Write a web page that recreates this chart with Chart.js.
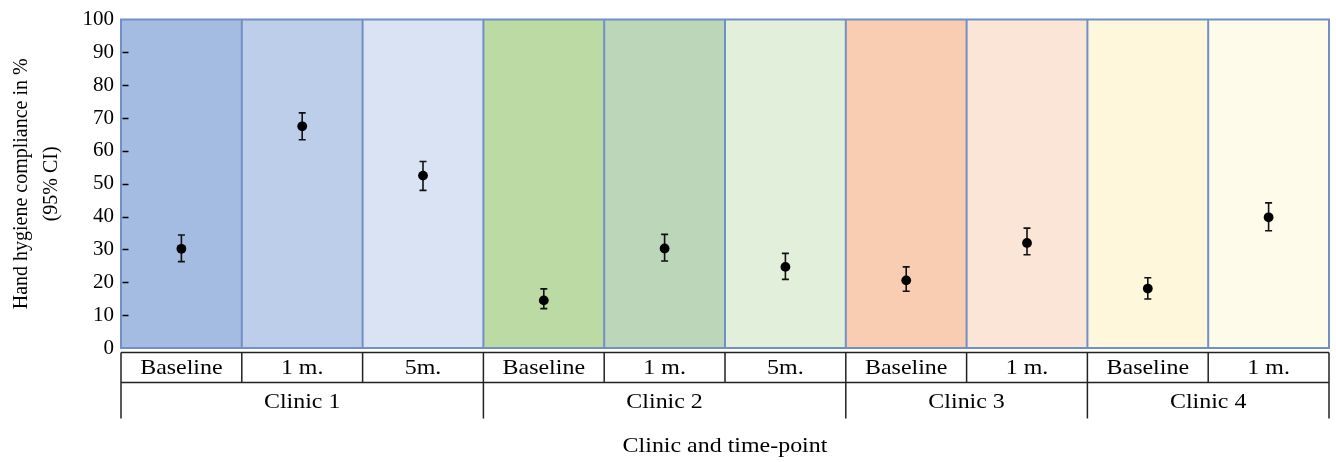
<!DOCTYPE html>
<html>
<head>
<meta charset="utf-8">
<script src="https://cdn.jsdelivr.net/npm/chart.js@4"></script>
<style>
  html, body { margin: 0; padding: 0; background: #fff; }
  #wrap { width: 1336px; height: 462px; }
</style>
</head>
<body>
<div id="wrap"><canvas id="c" width="1336" height="462"></canvas></div>
<script>
const timeLabels = ['Baseline', '1 m.', '5m.', 'Baseline', '1 m.', '5m.', 'Baseline', '1 m.', 'Baseline', '1 m.'];
const clinics = ['Clinic 1', 'Clinic 2', 'Clinic 3', 'Clinic 4'];
const clinicSizes = [3, 3, 2, 2];
const compliance = [30.2, 67.5, 52.5, 14.5, 30.3, 24.7, 20.6, 32.0, 18.1, 39.8];
const ciLow  = [26.3, 63.4, 48.0, 12.0, 26.5, 20.9, 17.3, 28.4, 14.9, 35.7];
const ciHigh = [34.4, 71.6, 56.8, 18.0, 34.6, 28.8, 24.7, 36.5, 21.4, 44.2];
const bandTop = [100, 100, 100, 100, 100, 100, 100, 100, 100, 100];
const bandColors = ['#a4bce2', '#bccee9', '#dae3f3', '#bbdaa4', '#bcd6b9', '#e2efda', '#f8cdb2', '#fbe5d6', '#fef7db', '#fffbeb'];
const yTicks = [0, 10, 20, 30, 40, 50, 60, 70, 80, 90, 100];

const FONT = '"Liberation Serif", "Times New Roman", serif';

function wideText(ctx, t, cx, cy) {
  ctx.save();
  ctx.translate(cx, cy);
  ctx.scale(1.14, 1);
  ctx.fillText(t, 0, 0);
  ctx.restore();
}

const extras = {
  id: 'extras',
  afterDatasetsDraw(chart) {
    const ctx = chart.ctx;
    const x = chart.scales.x, y = chart.scales.y;
    const area = chart.chartArea;
    const n = timeLabels.length;
    const edges = [area.left];
    for (let i = 0; i < n - 1; i++) {
      edges.push((x.getPixelForValue(i) + x.getPixelForValue(i + 1)) / 2);
    }
    edges.push(area.right);
    const top = y.getPixelForValue(100), bot = y.getPixelForValue(0);
    ctx.save();
    // band borders
    ctx.strokeStyle = '#7190c4';
    ctx.lineWidth = 2;
    ctx.beginPath();
    edges.forEach(ex => { ctx.moveTo(ex, top - 1); ctx.lineTo(ex, bot + 1); });
    ctx.moveTo(area.left, top); ctx.lineTo(area.right, top);
    ctx.moveTo(area.left, bot); ctx.lineTo(area.right, bot);
    ctx.stroke();
    // inner tick marks
    ctx.strokeStyle = '#000';
    ctx.lineWidth = 1.5;
    yTicks.forEach(v => {
      if (v === 0 || v === 100) return;
      const py = Math.round(y.getPixelForValue(v)) + 0.5;
      ctx.beginPath();
      ctx.moveTo(area.left + 1.5, py);
      ctx.lineTo(area.left + 7.5, py);
      ctx.stroke();
    });
    // error bars and points
    ctx.strokeStyle = '#111';
    ctx.lineWidth = 1.6;
    compliance.forEach((v, i) => {
      const px = x.getPixelForValue(i);
      const pl = y.getPixelForValue(ciLow[i]);
      const ph = y.getPixelForValue(ciHigh[i]);
      ctx.beginPath();
      ctx.moveTo(px, pl); ctx.lineTo(px, ph);
      ctx.moveTo(px - 3.5, pl); ctx.lineTo(px + 3.5, pl);
      ctx.moveTo(px - 3.5, ph); ctx.lineTo(px + 3.5, ph);
      ctx.stroke();
      ctx.beginPath();
      ctx.fillStyle = '#000';
      ctx.arc(px, y.getPixelForValue(v), 4.9, 0, Math.PI * 2);
      ctx.fill();
    });
    // table below
    const r1t = area.bottom + 4.5, r1b = r1t + 30, r2b = r1b + 36;
    ctx.strokeStyle = '#222';
    ctx.lineWidth = 1.5;
    ctx.beginPath();
    ctx.moveTo(area.left, r1t); ctx.lineTo(area.right, r1t);
    ctx.moveTo(area.left, r1b); ctx.lineTo(area.right, r1b);
    edges.forEach(ex => { ctx.moveTo(ex, r1t); ctx.lineTo(ex, r1b); });
    let idx = 0;
    const gEdges = [edges[0]];
    clinicSizes.forEach(s => { idx += s; gEdges.push(edges[idx]); });
    gEdges.forEach(ex => { ctx.moveTo(ex, r1b); ctx.lineTo(ex, r2b); });
    ctx.stroke();
    ctx.fillStyle = '#000';
    ctx.font = '21px ' + FONT;
    ctx.textAlign = 'center';
    ctx.textBaseline = 'middle';
    timeLabels.forEach((t, i) => {
      wideText(ctx, t, (edges[i] + edges[i + 1]) / 2, (r1t + r1b) / 2 + 1);
    });
    clinics.forEach((c, i) => {
      wideText(ctx, c, (gEdges[i] + gEdges[i + 1]) / 2, (r1b + r2b) / 2 + 2);
    });
    wideText(ctx, 'Clinic and time-point', (area.left + area.right) / 2, 446);
    ctx.restore();
  }
};

new Chart(document.getElementById('c'), {
  type: 'bar',
  data: {
    labels: timeLabels.map((t, i) => i),
    datasets: [{
      data: bandTop,
      backgroundColor: bandColors,
      borderWidth: 0,
      barPercentage: 1,
      categoryPercentage: 1,
      inflateAmount: 0.5
    }]
  },
  options: {
    responsive: false,
    animation: false,
    events: [],
    layout: { padding: { top: 13, right: 7, bottom: 114, left: 0 } },
    plugins: { legend: { display: false }, tooltip: { enabled: false } },
    scales: {
      x: { display: false },
      y: {
        min: 0, max: 100,
        afterFit(s) { s.width = 121; },
        afterBuildTicks(s) { s.ticks = yTicks.map(v => ({ value: v })); },
        border: { display: false },
        grid: { display: false, drawTicks: false },
        ticks: { color: '#000', padding: 7, font: { family: FONT, size: 21 } },
        title: {
          display: true,
          text: ['Hand hygiene compliance in %', '(95% CI)'],
          color: '#000',
          font: { family: FONT, size: 20, lineHeight: 1.5 },
          padding: { top: 7, bottom: 0 }
        }
      }
    }
  },
  plugins: [extras]
});
</script>
</body>
</html>
